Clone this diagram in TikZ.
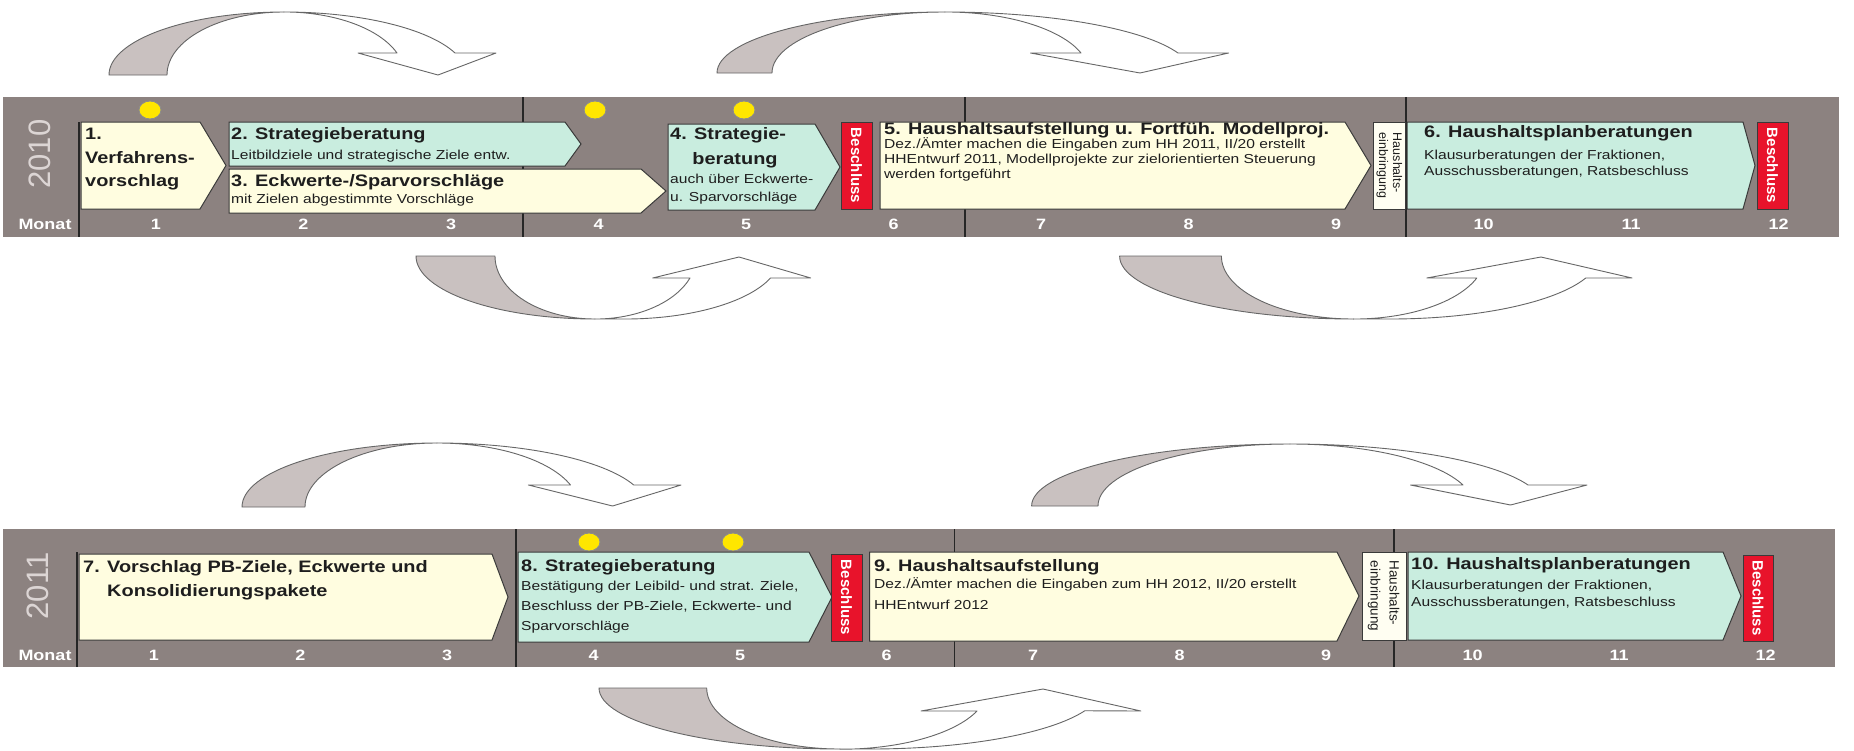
\documentclass[tikz,border=0pt]{standalone}
\usepackage{fontspec}
\usepackage{graphicx}
\newfontfamily\af{Liberation Sans}[FakeStretch=1.2]
\newfontfamily\ar{Liberation Sans}
\definecolor{band}{HTML}{8C8280}
\definecolor{cream}{HTML}{FFFDE0}
\definecolor{mint}{HTML}{C9EDDF}
\definecolor{bred}{HTML}{E8132B}
\definecolor{sun}{HTML}{FFE600}
\definecolor{arrg}{HTML}{C9C1C0}
\definecolor{edge}{HTML}{3A3A3A}
\definecolor{txt}{HTML}{1E1E1E}
\definecolor{yeartxt}{HTML}{DCD5D4}
\definecolor{hhfill}{HTML}{FFFEF2}
\begin{document}
\begin{tikzpicture}[x=1pt,y=-1pt,
  creambox/.style={draw=edge, line width=1pt, fill=cream, line join=miter},
  mintbox/.style={draw=edge, line width=1pt, fill=mint, line join=miter},
  redbox/.style={draw=edge, line width=1pt, fill=bred},
  hhbox/.style={draw=edge, line width=1pt, fill=hhfill},
  sepline/.style={draw=black!85, line width=1.6pt},
  sundot/.style={draw=black!45, fill=sun, line width=0.6pt},
  ttl/.style={font=\af\bfseries\fontsize{16.6}{20}\selectfont, text=txt, inner sep=0pt, anchor=west, text height=12pt, text depth=3.5pt},
  subt/.style={font=\af\fontsize{13}{15}\selectfont, text=txt, inner sep=0pt, anchor=west, text height=9.4pt, text depth=2.7pt},
  mon/.style={font=\af\bfseries\fontsize{15}{18}\selectfont, text=white, inner sep=0pt, text height=10.8pt, text depth=0pt},
  yeartext/.style={font=\ar\fontsize{31}{31}\selectfont, text=yeartxt, inner sep=0pt},
  beschtext/.style={font=\ar\bfseries\fontsize{15}{15}\selectfont, text=white, inner sep=0pt},
  hhtext/.style={text=txt, inner sep=0pt},
  arrback/.style={fill=arrg, draw=black!60, line width=0.9pt, line join=round},
  arrfront/.style={fill=white, draw=black!60, line width=0.9pt, line join=round}
]
\useasboundingbox (0,0) rectangle (1854,750);
\fill[white] (0,0) rectangle (1854,750);

% ================= curved arrows =================
% A
\draw[arrback] (109,75) arc[start angle=180,end angle=90,x radius=175pt,y radius=63pt] arc[start angle=90,end angle=180,x radius=117pt,y radius=63pt] -- cycle;
\draw[arrfront] (284,12) arc[start angle=90,end angle=20.4,x radius=182.5pt,y radius=63pt] -- (496,53) -- (438,75) -- (358,53) -- (397,53) arc[start angle=20.4,end angle=90,x radius=120.6pt,y radius=63pt] -- cycle;
% B
\draw[arrback] (717,73) arc[start angle=180,end angle=90,x radius=228pt,y radius=61pt] arc[start angle=90,end angle=180,x radius=173pt,y radius=61pt] -- cycle;
\draw[arrfront] (945,12) arc[start angle=90,end angle=19.1,x radius=246.6pt,y radius=61pt] -- (1228.6,53) -- (1140,73) -- (1030.5,53) -- (1081,53) arc[start angle=19.1,end angle=90,x radius=143.9pt,y radius=61pt] -- cycle;
% C
\draw[arrback] (416,256) arc[start angle=180,end angle=270,x radius=179pt,y radius=63pt] arc[start angle=270,end angle=180,x radius=100pt,y radius=63pt] -- cycle;
\draw[arrfront] (595,319) -- (625,319) arc[start angle=270,end angle=339.6,x radius=155.3pt,y radius=63pt] -- (810.7,278) -- (739,257) -- (652.7,278) -- (690,278) arc[start angle=339.6,end angle=270,x radius=101.4pt,y radius=63pt] -- cycle;
% D
\draw[arrback] (1119.6,256) arc[start angle=180,end angle=270,x radius=234pt,y radius=63pt] arc[start angle=270,end angle=180,x radius=132.2pt,y radius=63pt] -- cycle;
\draw[arrfront] (1353.6,319) -- (1390,319) arc[start angle=270,end angle=339.6,x radius=208.9pt,y radius=63pt] -- (1632,278) -- (1541,257) -- (1426.8,278) -- (1476.8,278) arc[start angle=339.6,end angle=270,x radius=131.5pt,y radius=63pt] -- cycle;
% E
\draw[arrback] (242,507) arc[start angle=180,end angle=90,x radius=195pt,y radius=64pt] arc[start angle=90,end angle=180,x radius=132pt,y radius=64pt] -- cycle;
\draw[arrfront] (437,443) arc[start angle=90,end angle=20.1,x radius=209.5pt,y radius=64pt] -- (681,485) -- (612.6,506) -- (528.4,485) -- (570.5,485) arc[start angle=20.1,end angle=90,x radius=142.2pt,y radius=64pt] -- cycle;
% F
\draw[arrback] (1031.6,506) arc[start angle=180,end angle=90,x radius=258.4pt,y radius=62pt] arc[start angle=90,end angle=180,x radius=192pt,y radius=62pt] -- cycle;
\draw[arrfront] (1290,444) arc[start angle=90,end angle=19.8,x radius=253pt,y radius=62pt] -- (1587,485) -- (1510.5,505) -- (1410.5,485) -- (1463,485) arc[start angle=19.8,end angle=90,x radius=183.8pt,y radius=62pt] -- cycle;
% G
\draw[arrback] (599,688) arc[start angle=180,end angle=270,x radius=241pt,y radius=61pt] arc[start angle=270,end angle=180,x radius=133.3pt,y radius=61pt] -- cycle;
\draw[arrfront] (840,749) -- (870,749) arc[start angle=270,end angle=338.1,x radius=231.5pt,y radius=61pt] -- (1140.8,711) -- (1043,689) -- (921,711) -- (977,711) arc[start angle=338.1,end angle=270,x radius=147.6pt,y radius=61pt] -- cycle;

% ================= band 2010 =================
\fill[band] (3,97) rectangle (1839,237);
\draw[sepline] (79,122) -- (79,237);
\foreach \sx in {523,965,1406} \draw[sepline] (\sx,97) -- (\sx,237);
\node[yeartext] (yr1) at (40,154) {\rotatebox{90}{2010}};
\node[mon] (mo1) at (45,224) {Monat};
\foreach \k in {1,...,12} \node[mon] (ma\k) at ({156+147.5*(\k-1)},224) {\k};

\fill[sundot] (150,110) ellipse[x radius=11pt,y radius=9pt];
\fill[sundot] (595,110) ellipse[x radius=11pt,y radius=9pt];
\fill[sundot] (744,110) ellipse[x radius=11pt,y radius=9pt];
\draw[sundot,fill=none] (150,110) ellipse[x radius=11pt,y radius=9pt];
\draw[sundot,fill=none] (595,110) ellipse[x radius=11pt,y radius=9pt];
\draw[sundot,fill=none] (744,110) ellipse[x radius=11pt,y radius=9pt];

\draw[creambox] (81,122) -- (200,122) -- (226,165.5) -- (200,209) -- (81,209) -- cycle;
\draw[mintbox] (229,122) -- (565,122) -- (581,144) -- (565,166) -- (229,166) -- cycle;
\draw[creambox] (229,169) -- (641,169) -- (666,191) -- (641,213) -- (229,213) -- cycle;
\draw[mintbox] (668,124) -- (815,124) -- (840,167) -- (815,210) -- (668,210) -- cycle;
\draw[redbox] (841,122) rectangle (872,209);
\draw[creambox] (880,122) -- (1345,122) -- (1371,165.5) -- (1345,209) -- (880,209) -- cycle;
\draw[hhbox] (1373,122) rectangle (1405,209);
\draw[mintbox] (1407,122) -- (1743,122) -- (1755,165.5) -- (1743,209) -- (1407,209) -- cycle;
\draw[redbox] (1757,122) rectangle (1788,209);

\node[ttl] (t1a) at (85,135) {1.};
\node[ttl] (t1b) at (85,159) {Verfahrens-};
\node[ttl] (t1c) at (85,182) {vorschlag};
\node[ttl] (t2) at (231,135) {2. Strategieberatung};
\node[subt] (s2) at (231,156) {Leitbildziele und strategische Ziele entw.};
\node[ttl] (t3) at (231,182) {3. Eckwerte-/Sparvorschläge};
\node[subt] (s3) at (231,200) {mit Zielen abgestimmte Vorschläge};
\node[ttl] (t4a) at (670,135) {4. Strategie-};
\node[ttl,anchor=center] (t4b) at (735,160) {beratung};
\node[subt] (s4a) at (670,180) {auch über Eckwerte-};
\node[subt] (s4b) at (670,198) {u. Sparvorschläge};
\node[beschtext] (bs1) at (856.5,165.5) {\rotatebox{-90}{Beschluss}};
\node[ttl] (t5) at (884,130) {5. Haushaltsaufstellung u. Fortfüh. Modellproj.};
\node[subt] (s5a) at (884,145) {Dez./Ämter machen die Eingaben zum HH 2011, II/20 erstellt};
\node[subt] (s5b) at (884,160) {HHEntwurf 2011, Modellprojekte zur zielorientierten Steuerung};
\node[subt] (s5c) at (884,175) {werden fortgeführt};
\node[hhtext] (hh1) at (1389,165.5) {\rotatebox{-90}{\ar\fontsize{12.5}{14}\selectfont\begin{tabular}{@{}l@{}}Haushalts-\\einbringung\end{tabular}}};
\node[ttl] (t6) at (1424,133) {6. Haushaltsplanberatungen};
\node[subt] (s6a) at (1424,156) {Klausurberatungen der Fraktionen,};
\node[subt] (s6b) at (1424,172) {Ausschussberatungen, Ratsbeschluss};
\node[beschtext] (bs2) at (1772.5,165.5) {\rotatebox{-90}{Beschluss}};

% ================= band 2011 =================
\fill[band] (3,529) rectangle (1835,667);
\draw[sepline] (77,552) -- (77,667);
\foreach \sx in {516,954.5,1394} \draw[sepline] (\sx,529) -- (\sx,667);
\node[yeartext] (yr2) at (38,586) {\rotatebox{90}{2011}};
\node[mon] (mo2) at (45,655) {Monat};
\foreach \k in {1,...,12} \node[mon] (mb\k) at ({154+146.5*(\k-1)},655) {\k};

\fill[sundot] (589,542) ellipse[x radius=11pt,y radius=9pt];
\fill[sundot] (733,542) ellipse[x radius=11pt,y radius=9pt];
\draw[sundot,fill=none] (589,542) ellipse[x radius=11pt,y radius=9pt];
\draw[sundot,fill=none] (733,542) ellipse[x radius=11pt,y radius=9pt];

\draw[creambox] (79,554) -- (492,554) -- (508,597) -- (492,640) -- (79,640) -- cycle;
\draw[mintbox] (518,552) -- (809,552) -- (832,597) -- (809,642) -- (518,642) -- cycle;
\draw[redbox] (831,554) rectangle (862,641);
\draw[creambox] (869.5,552) -- (1337,552) -- (1359,596) -- (1337,641) -- (869.5,641) -- cycle;
\draw[hhbox] (1362,552) rectangle (1406,640);
\draw[mintbox] (1408,552) -- (1723,552) -- (1741,596) -- (1723,640) -- (1408,640) -- cycle;
\draw[redbox] (1743,555) rectangle (1773,641);

\node[ttl] (t7a) at (83,568) {7. Vorschlag PB-Ziele, Eckwerte und};
\node[ttl] (t7b) at (107,592) {Konsolidierungspakete};
\node[ttl] (t8) at (521,567) {8. Strategieberatung};
\node[subt] (s8a) at (521,587) {Bestätigung der Leibild- und strat. Ziele,};
\node[subt] (s8b) at (521,607) {Beschluss der PB-Ziele, Eckwerte- und};
\node[subt] (s8c) at (521,627) {Sparvorschläge};
\node[beschtext] (bs3) at (846.5,597.5) {\rotatebox{-90}{Beschluss}};
\node[ttl] (t9) at (874,567) {9. Haushaltsaufstellung};
\node[subt] (s9a) at (874,585) {Dez./Ämter machen die Eingaben zum HH 2012, II/20 erstellt};
\node[subt] (s9b) at (874,606) {HHEntwurf 2012};
\node[hhtext] (hh2) at (1384,596) {\rotatebox{-90}{\ar\fontsize{13.5}{19}\selectfont\begin{tabular}{@{}l@{}}Haushalts-\\einbringung\end{tabular}}};
\node[ttl] (t10) at (1411,565) {10. Haushaltsplanberatungen};
\node[subt] (s10a) at (1411,586) {Klausurberatungen der Fraktionen,};
\node[subt] (s10b) at (1411,603) {Ausschussberatungen, Ratsbeschluss};
\node[beschtext] (bs4) at (1758,598) {\rotatebox{-90}{Beschluss}};
\end{tikzpicture}
\end{document}
